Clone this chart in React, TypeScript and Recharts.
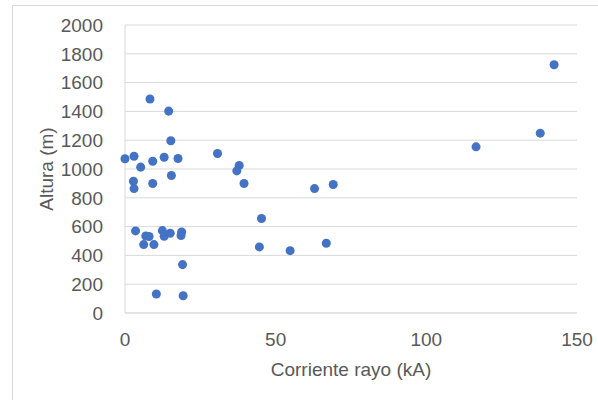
import { ScatterChart, Scatter, XAxis, YAxis, ZAxis, CartesianGrid, Label } from 'recharts';

const corriente = [
  0, 3.0, 2.8, 3.0, 5.2, 8.3, 9.2, 9.2, 13.0, 14.5, 15.2, 15.4, 17.6,
  30.7, 37.9, 37.1, 39.5, 62.9, 69.1, 45.3, 44.6, 54.8, 66.8,
  116.5, 137.8, 142.4,
  3.5, 6.9, 8.0, 6.2, 9.6, 12.4, 13.0, 15.0, 18.8, 18.6, 19.1, 10.4, 19.3,
];
const altura = [
  1071, 1089, 915, 864, 1013, 1486, 1054, 899, 1082, 1402, 1196, 955, 1073,
  1108, 1024, 987, 899, 864, 892, 656, 459, 433, 484,
  1154, 1249, 1724,
  570, 535, 531, 475, 475, 572, 533, 554, 563, 538, 336, 132, 120,
];
const xTicks = [0, 50, 100, 150];
const yTicks = [0, 200, 400, 600, 800, 1000, 1200, 1400, 1600, 1800, 2000];

const points = corriente.map((c, i) => ({ x: c, y: altura[i] }));

const font = '"Liberation Sans", Arial, sans-serif';
const textColor = '#595959';
const lineColor = '#d9d9d9';

export default function App() {
  return (
    <div style={{ position: 'absolute', left: 0, top: 0, width: 598, height: 400, background: '#fff', overflow: 'hidden' }}>
      <div
        style={{
          position: 'absolute',
          left: 12,
          top: 5,
          width: 620,
          height: 420,
          borderLeft: `1px solid ${lineColor}`,
          borderTop: `1px solid ${lineColor}`,
        }}
      />
      <div style={{ position: 'absolute', left: 0, top: 0 }}>
        <ScatterChart width={598} height={400} margin={{ top: 25, right: 21, bottom: 0, left: 0 }}>
          <CartesianGrid vertical={false} stroke={lineColor} />
          <XAxis
            type="number"
            dataKey="x"
            domain={[0, 150]}
            ticks={xTicks}
            height={87}
            tickLine={false}
            tickSize={0}
            tickMargin={20}
            axisLine={{ stroke: lineColor }}
            tick={{ fill: textColor, fontSize: 19, fontFamily: font }}
          >
            <Label
              value="Corriente rayo (kA)"
              position="insideBottom"
              offset={24}
              fill={textColor}
              fontSize={19}
              fontFamily={font}
            />
          </XAxis>
          <YAxis
            type="number"
            dataKey="y"
            domain={[0, 2000]}
            ticks={yTicks}
            width={125}
            tickLine={false}
            tickSize={0}
            tickMargin={22}
            axisLine={{ stroke: lineColor }}
            tick={{ fill: textColor, fontSize: 19, fontFamily: font }}
          >
            <Label
              content={(props: any) => {
                const vb = props.viewBox || { x: 0, y: 25, width: 125, height: 288 };
                const cx = 46;
                const cy = vb.y + vb.height / 2;
                return (
                  <text
                    x={cx}
                    y={cy}
                    transform={`rotate(-90 ${cx} ${cy})`}
                    textAnchor="middle"
                    dominantBaseline="central"
                    fill={textColor}
                    fontSize={19}
                    fontFamily={font}
                  >
                    Altura (m)
                  </text>
                );
              }}
            />
          </YAxis>
          <ZAxis range={[48, 48]} />
          <Scatter data={points} fill="#4472C4" isAnimationActive={false} />
        </ScatterChart>
      </div>
    </div>
  );
}
